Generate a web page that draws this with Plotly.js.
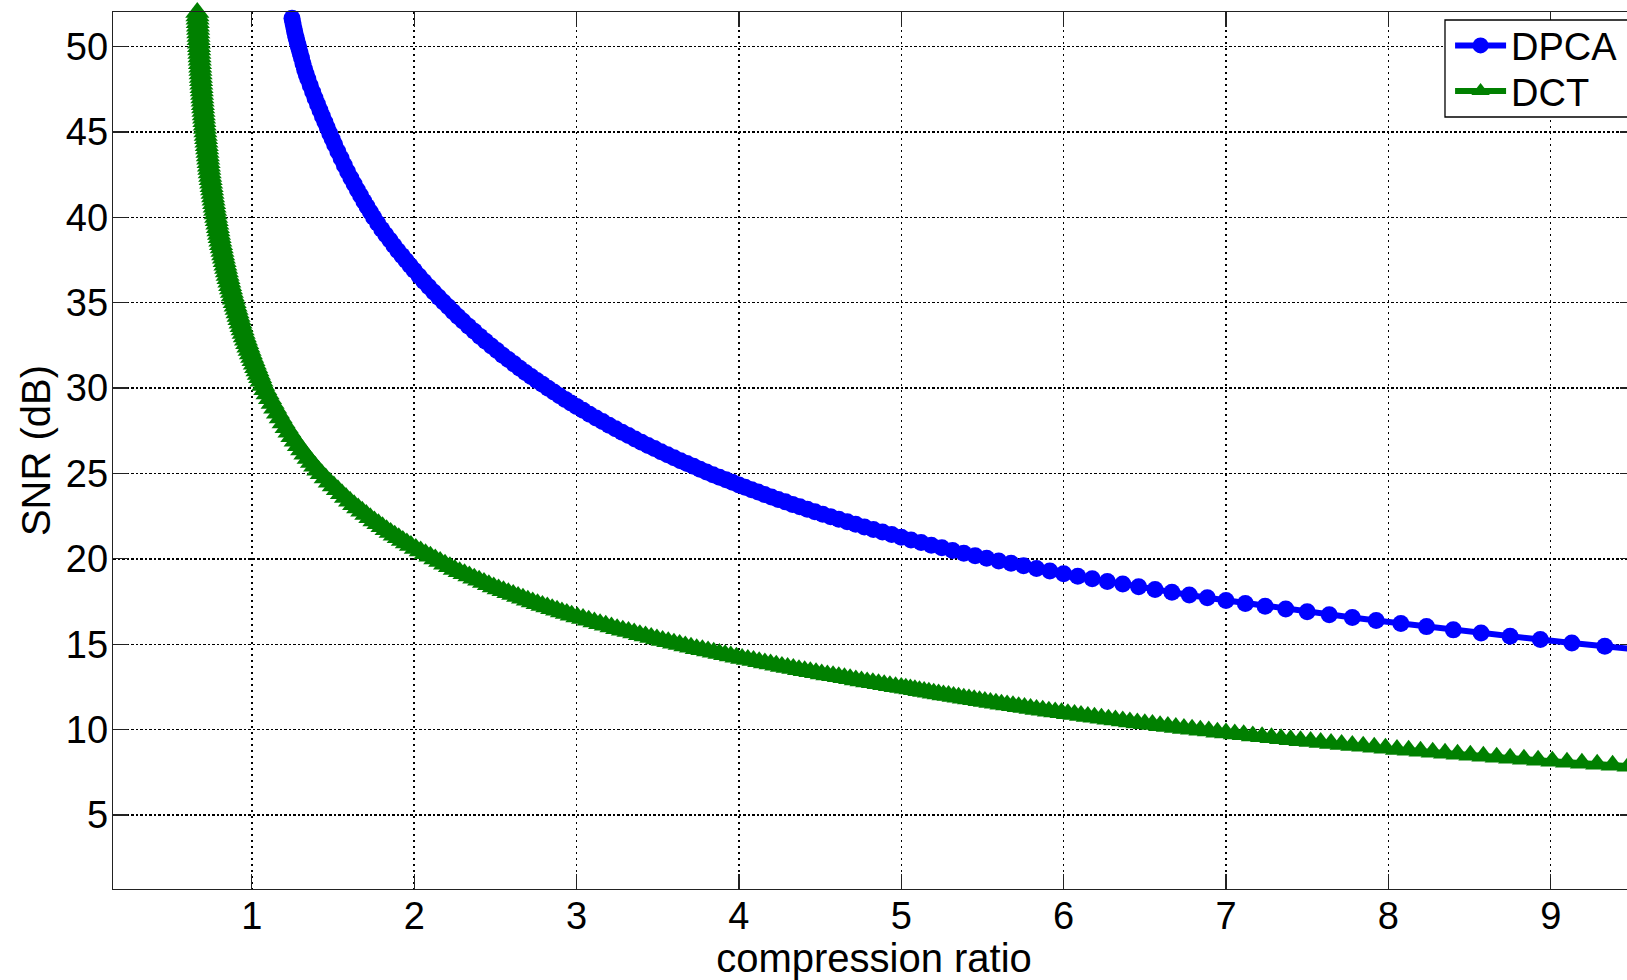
<!DOCTYPE html>
<html>
<head>
<meta charset="utf-8">
<script src="https://cdn.plot.ly/plotly-3.0.1.min.js"></script>
<style>
html,body{margin:0;padding:0;overflow:hidden;background:#fff;}
#chart{width:1700px;height:980px;}
</style>
</head>
<body>
<div id="chart"></div>
<script>
const seriesNames = ['DPCA', 'DCT'];
const xTicks = [1, 2, 3, 4, 5, 6, 7, 8, 9];
const yTicks = [5, 10, 15, 20, 25, 30, 35, 40, 45, 50];

const dpcaX = [
1.2475,1.2525,1.258,1.263,1.268,1.273,1.279,1.285,1.291,1.298,
1.306,1.315,1.325,1.335,1.345,1.36,1.375,1.39,1.405,1.42,
1.435,1.45,1.465,1.48,1.495,1.51,1.53,1.55,1.57,1.59,
1.61,1.63,1.65,1.67,1.69,1.71,1.73,1.75,1.775,1.8,
1.825,1.85,1.875,1.9,1.925,1.95,1.975,2,2.03,2.06,
2.09,2.12,2.15,2.18,2.21,2.24,2.27,2.3,2.335,2.37,
2.405,2.44,2.475,2.51,2.545,2.58,2.615,2.65,2.685,2.72,
2.755,2.79,2.825,2.86,2.895,2.93,2.965,3,3.04,3.08,
3.12,3.16,3.2,3.24,3.28,3.32,3.36,3.4,3.44,3.48,
3.52,3.56,3.6,3.64,3.68,3.72,3.76,3.8,3.84,3.88,
3.92,3.96,
4,4.038,4.078,4.118,4.158,4.2,4.242,4.286,4.33,4.375,
4.421,4.468,4.516,4.565,4.615,4.667,4.719,4.773,4.828,4.884,
4.941,5,5.06,5.122,5.185,5.25,5.316,5.385,5.455,5.526,
5.6,5.676,5.753,5.833,5.915,6,6.087,6.176,6.269,6.364,
6.462,6.563,6.667,6.774,6.885,7,7.119,7.241,7.368,7.5,
7.636,7.778,7.925,8.077,8.235,8.4,8.571,8.75,8.936,9.13,
9.333,9.545
];
const dpcaY = [
51.66,51.42,51.16,50.92,50.71,50.51,50.30,50.08,49.87,49.61,
49.33,49.01,48.68,48.38,48.11,47.73,47.35,46.98,46.63,46.28,
45.93,45.59,45.25,44.92,44.59,44.27,43.86,43.46,43.06,42.67,
42.31,41.96,41.61,41.28,40.95,40.63,40.31,40.01,39.66,39.31,
38.98,38.67,38.36,38.05,37.76,37.47,37.18,36.90,36.57,36.25,
35.94,35.63,35.33,35.04,34.76,34.47,34.20,33.93,33.63,33.33,
33.03,32.75,32.47,32.20,31.93,31.67,31.42,31.17,30.92,30.68,
30.45,30.22,29.99,29.77,29.55,29.34,29.13,28.93,28.70,28.47,
28.25,28.04,27.83,27.62,27.42,27.22,27.02,26.83,26.64,26.46,
26.27,26.10,25.92,25.75,25.58,25.42,25.25,25.09,24.93,24.78,
24.63,24.48,
24.33,24.19,24.05,23.91,23.77,23.62,23.48,23.34,23.19,23.05,
22.91,22.76,22.61,22.47,22.32,22.17,22.02,21.87,21.72,21.57,
21.42,21.27,21.11,20.96,20.80,20.65,20.49,20.33,20.18,20.03,
19.88,19.74,19.59,19.44,19.29,19.13,18.98,18.83,18.67,18.52,
18.36,18.20,18.04,17.88,17.72,17.56,17.39,17.23,17.06,16.90,
16.73,16.56,16.39,16.21,16.03,15.84,15.65,15.46,15.27,15.07,
14.88,14.68
];

const dctX = [
0.664,0.6651,0.6661,0.6672,0.6683,0.6694,0.6705,0.6716,0.6727,0.6738,
0.675,0.6761,0.6772,0.6784,0.6795,0.6808,0.6822,0.6836,0.6849,0.6863,
0.6877,0.6891,0.6906,0.6923,0.6939,0.6955,0.6972,0.6988,0.7005,0.7024,
0.7043,0.7061,0.708,0.7099,0.712,0.7141,0.7163,0.7184,0.7206,0.7227,
0.7248,0.7271,0.7293,0.7316,0.7339,0.7361,0.7384,0.7408,0.7438,0.7467,
0.7497,0.7526,0.7555,0.7585,0.7615,0.7647,0.7679,0.771,0.7742,0.7773,
0.7805,0.784,0.7876,0.7911,0.7946,0.7981,0.802,0.8063,0.8106,0.815,
0.8193,0.8236,0.8281,0.8327,0.8373,0.8419,0.8465,0.8512,0.8564,0.8616,
0.8667,0.8719,0.8773,0.883,0.8887,0.8945,0.9002,0.9062,0.9122,0.9183,
0.9243,0.9306,0.937,0.9433,0.9497,0.9569,0.9642,0.9715,0.9789,0.9866,
0.9943,1.0021,1.0103,1.0185,1.0267,1.0349,1.0431,1.0513,1.0596,
1.07,1.083,1.097,1.112,1.128,1.144,1.161,1.178,1.196,1.214,
1.232,1.25,1.27,1.29,1.31,1.33,1.35,1.37,1.39,1.41,
1.43,1.455,1.48,1.505,1.53,1.555,1.58,1.605,1.63,1.655,
1.68,1.705,1.73,1.755,1.78,1.805,1.83,1.855,1.88,1.905,
1.93,1.955,1.98,
2.01,2.04,2.07,2.1,2.13,2.16,2.19,2.22,2.25,2.28,
2.31,2.34,2.37,2.4,2.43,2.46,2.49,2.52,2.55,2.58,
2.61,2.64,2.67,2.7,2.73,2.76,2.79,2.82,2.85,2.88,
2.91,2.94,2.97,
3.005,3.04,3.075,3.11,3.145,3.18,3.215,3.25,3.285,3.32,
3.355,3.39,3.425,3.46,3.495,3.53,3.565,3.6,3.635,3.67,
3.705,3.74,3.775,3.81,3.845,3.88,3.915,3.95,3.985,4.02,
4.055,4.09,4.125,4.16,4.195,4.23,4.265,4.3,4.335,4.37,
4.405,4.44,4.475,4.51,4.545,4.58,4.615,4.65,4.685,4.72,
4.755,4.79,4.825,4.86,4.895,4.93,4.965,
5,5.028,5.056,5.084,5.112,5.141,5.17,5.2,5.23,5.26,
5.291,5.322,5.353,5.385,5.417,5.449,5.482,5.515,5.549,5.583,
5.617,5.652,5.688,5.723,5.759,5.796,5.833,5.871,5.909,5.948,
5.987,6.026,6.067,6.107,6.149,6.19,6.233,6.276,6.319,6.364,
6.408,6.454,6.5,6.547,6.594,6.642,6.691,6.741,6.791,6.842,
6.894,6.947,7,7.054,7.109,7.165,7.222,7.28,7.339,7.398,
7.459,7.521,7.583,7.647,7.712,7.778,7.845,7.913,7.982,8.053,
8.125,8.198,8.273,8.349,8.426,8.505,8.585,8.667,8.75,8.835,
8.922,9.01,9.1,9.192,9.286,9.381,9.479,9.579
];
const dctY = [
52,51.8,51.6,51.4,51.2,51,50.8,50.6,50.4,50.2,
50,49.8,49.6,49.4,49.2,49,48.8,48.6,48.4,48.2,
48,47.8,47.6,47.4,47.2,47,46.8,46.6,46.4,46.2,
46,45.8,45.6,45.4,45.2,45,44.8,44.6,44.4,44.2,
44,43.8,43.6,43.4,43.2,43,42.8,42.6,42.4,42.2,
42,41.8,41.6,41.4,41.2,41,40.8,40.6,40.4,40.2,
40,39.8,39.6,39.4,39.2,39,38.8,38.6,38.4,38.2,
38,37.8,37.6,37.4,37.2,37,36.8,36.6,36.4,36.2,
36,35.8,35.6,35.4,35.2,35,34.8,34.6,34.4,34.2,
34,33.8,33.6,33.4,33.2,33,32.8,32.6,32.4,32.2,
32,31.8,31.6,31.4,31.2,31,30.8,30.6,30.4,
30.15,29.91,29.65,29.38,29.10,28.82,28.53,28.25,27.95,27.68,
27.41,27.15,26.89,26.63,26.38,26.13,25.88,25.65,25.42,25.19,
24.98,24.74,24.49,24.26,24.04,23.82,23.60,23.38,23.17,22.98,
22.79,22.60,22.40,22.22,22.05,21.88,21.71,21.54,21.38,21.23,
21.08,20.93,20.78,
20.61,20.46,20.30,20.15,19.99,19.84,19.69,19.53,19.38,19.25,
19.12,19.00,18.87,18.74,18.61,18.48,18.35,18.24,18.13,18.02,
17.91,17.80,17.69,17.58,17.47,17.37,17.27,17.18,17.08,16.99,
16.89,16.80,16.70,
16.60,16.50,16.40,16.30,16.20,16.11,16.01,15.91,15.82,15.74,
15.65,15.56,15.48,15.39,15.30,15.22,15.14,15.06,14.98,14.90,
14.82,14.74,14.67,14.60,14.53,14.46,14.38,14.31,14.24,14.17,
14.10,14.04,13.97,13.90,13.84,13.77,13.70,13.64,13.58,13.51,
13.45,13.39,13.33,13.26,13.20,13.15,13.09,13.03,12.97,12.91,
12.85,12.79,12.74,12.68,12.62,12.56,12.51,
12.47,12.42,12.38,12.33,12.28,12.23,12.18,12.13,12.08,12.03,
11.99,11.94,11.89,11.84,11.79,11.74,11.69,11.64,11.59,11.54,
11.49,11.44,11.39,11.34,11.29,11.23,11.18,11.13,11.08,11.03,
10.98,10.93,10.88,10.83,10.77,10.72,10.66,10.61,10.56,10.50,
10.45,10.39,10.34,10.29,10.23,10.18,10.12,10.07,10.02,9.96,
9.91,9.85,9.80,9.74,9.69,9.63,9.58,9.52,9.46,9.41,
9.35,9.30,9.24,9.18,9.13,9.07,9.02,8.96,8.90,8.84,
8.79,8.73,8.67,8.61,8.55,8.50,8.44,8.38,8.32,8.26,
8.21,8.15,8.09,8.03,7.97,7.91,7.85,7.79
];

if (dpcaX.length !== dpcaY.length || dctX.length !== dctY.length) {
  console.error('length mismatch', dpcaX.length, dpcaY.length, dctX.length, dctY.length);
}

const FONT = 'Liberation Sans, Arial, Helvetica, sans-serif';
const AX = '#222222';

const traces = [
  {
    type: 'scatter', mode: 'lines+markers', name: seriesNames[0],
    x: dpcaX, y: dpcaY, cliponaxis: false, legend: 'legend',
    line: {color: '#0000ff', width: 6},
    marker: {symbol: 'circle', size: 17, color: '#0000ff', line: {width: 0}}
  },
  {
    type: 'scatter', mode: 'lines+markers', name: seriesNames[1],
    x: dctX, y: dctY, cliponaxis: false, legend: 'legend2',
    line: {color: '#008000', width: 6},
    marker: {symbol: 'triangle-up', size: 21, color: '#008000', line: {width: 0}}
  }
];

const axisCommon = {
  tickmode: 'array', ticks: 'inside', ticklen: 15, tickwidth: 1.3, tickcolor: AX,
  showline: true, linecolor: AX, linewidth: 1.3, mirror: 'ticks',
  showgrid: true, gridcolor: '#000000', gridwidth: 1.4,
  zeroline: false, automargin: false,
  tickfont: {family: FONT, size: 38, color: '#000'}
};

const layout = {
  width: 1700, height: 980,
  margin: {l: 113, r: 65, t: 12, b: 91, pad: 0},
  paper_bgcolor: '#ffffff', plot_bgcolor: '#ffffff',
  font: {family: FONT, size: 38, color: '#000'},
  showlegend: true,
  xaxis: Object.assign({}, axisCommon, {
    range: [0.145, 9.519], tickvals: xTicks, griddash: '2px,4px',
    ticklabelstandoff: -7,
    title: {text: 'compression ratio', font: {family: FONT, size: 40, color: '#000'}, standoff: 13}
  }),
  yaxis: Object.assign({}, axisCommon, {
    range: [0.662, 52.03], tickvals: yTicks, griddash: '3px,2px,2px,2px',
    ticklabelstandoff: -4,
    title: {text: 'SNR (dB)', font: {family: FONT, size: 40, color: '#000'}, standoff: 2}
  }),
  legend: {
    x: 0.8785, y: 0.9616, xanchor: 'left', yanchor: 'middle',
    bgcolor: 'rgba(0,0,0,0)', borderwidth: 0, itemwidth: 51,
    font: {family: FONT, size: 38, color: '#000'}
  },
  legend2: {
    x: 0.8785, y: 0.9095, xanchor: 'left', yanchor: 'middle',
    bgcolor: 'rgba(0,0,0,0)', borderwidth: 0, itemwidth: 51,
    font: {family: FONT, size: 38, color: '#000'}
  },
  shapes: [{
    type: 'rect', xref: 'paper', yref: 'paper',
    x0: 0.87516, x1: 1.2, y0: 0.88027, y1: 0.99088,
    line: {color: '#000000', width: 1.3}, fillcolor: '#ffffff', layer: 'above'
  }]
};

Plotly.newPlot('chart', traces, layout, {staticPlot: true, displayModeBar: false});
</script>
</body>
</html>
